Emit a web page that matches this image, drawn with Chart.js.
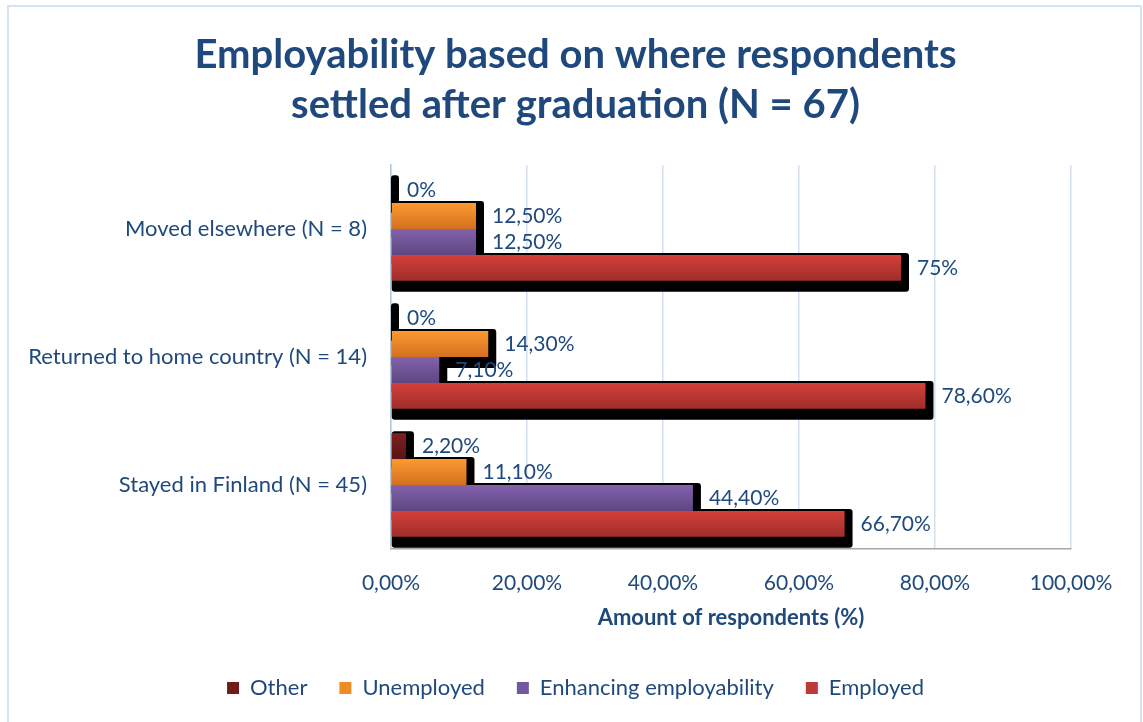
<!DOCTYPE html>
<html>
<head>
<meta charset="utf-8">
<script src="https://cdn.jsdelivr.net/npm/chart.js@4"></script>
<style>
  html, body { margin: 0; padding: 0; background: #fff; }
  canvas { display: block; }
</style>
</head>
<body>
<canvas id="chart" width="1143" height="722"></canvas>
<script>
// where graduates settled, top to bottom
var places = ['Moved elsewhere (N = 8)', 'Returned to home country (N = 14)', 'Stayed in Finland (N = 45)'];

// share of respondents per group, in percent
var other = [0, 0, 2.2];
var unemployed = [12.5, 14.3, 11.1];
var enhancing = [12.5, 7.1, 44.4];
var employed = [75, 78.6, 66.7];

var xTickLabels = ['0,00%', '20,00%', '40,00%', '60,00%', '80,00%', '100,00%'];

var ink = '#1f497d';
var font = 'Lato';

// "12,50%" style, whole numbers without decimals
function pct(v) {
  return (Number.isInteger(v) ? String(v) : v.toFixed(2).replace('.', ',')) + '%';
}

// white card with a thin blue frame
var frame = {
  id: 'frame',
  beforeDraw: function (chart) {
    var ctx = chart.ctx;
    ctx.save();
    ctx.fillStyle = '#fff';
    ctx.fillRect(0, 0, chart.width, chart.height);
    ctx.strokeStyle = '#d6e3f5';
    ctx.lineWidth = 2;
    ctx.strokeRect(8, 6, chart.width - 10, chart.height + 10);
    ctx.restore();
  }
};

// title and legend sit centred on the card, not on the padded layout box
var recenter = {
  id: 'recenter',
  afterLayout: function (chart) {
    [chart.titleBlock, chart.legend].forEach(function (b) {
      b.left += 35;
      b.right += 35;
    });
  }
};

// black extruded shadow under every bar + vertical gradient fill
var barShade = {
  id: 'barShade',
  beforeDatasetsDraw: function (chart) {
    var ctx = chart.ctx;
    ctx.save();
    ctx.fillStyle = '#000';
    chart.getSortedVisibleDatasetMetas().forEach(function (meta) {
      var ds = chart.data.datasets[meta.index];
      meta.data.forEach(function (bar) {
        var p = bar.getProps(['x', 'y', 'base', 'height'], true);
        var top = p.y - p.height / 2;
        var bottom = p.y + p.height / 2;
        var left = Math.min(p.base, p.x);
        var right = Math.max(p.base, p.x);
        var g = ctx.createLinearGradient(0, top, 0, bottom);
        g.addColorStop(0, ds.shade[0]);
        g.addColorStop(1, ds.shade[1]);
        bar.options = Object.assign({}, bar.options, { backgroundColor: g });
        ctx.beginPath();
        ctx.roundRect(left, top - 2, right - left + 8, bottom - top + 13, 3);
        ctx.fill();
      });
    });
    ctx.restore();
  }
};

// value text to the right of each bar
var valueLabels = {
  id: 'valueLabels',
  afterDatasetsDraw: function (chart) {
    var ctx = chart.ctx;
    ctx.save();
    ctx.font = '21px ' + font;
    ctx.fillStyle = ink;
    ctx.textAlign = 'left';
    ctx.textBaseline = 'middle';
    chart.getSortedVisibleDatasetMetas().forEach(function (meta) {
      var values = chart.data.datasets[meta.index].data;
      meta.data.forEach(function (bar, i) {
        ctx.fillText(pct(values[i]), bar.x + 16, bar.y);
      });
    });
    ctx.restore();
  }
};

Chart.defaults.font.family = font;
Chart.defaults.color = ink;

var chart = new Chart(document.getElementById('chart'), {
  type: 'bar',
  data: {
    labels: places,
    datasets: [
      { label: 'Other', data: other, backgroundColor: '#6e1b1b', shade: ['#7d2020', '#5a1414'] },
      { label: 'Unemployed', data: unemployed, backgroundColor: '#f08a24', shade: ['#ff9a30', '#d27020'] },
      { label: 'Enhancing employability', data: enhancing, backgroundColor: '#7159a0', shade: ['#8462ad', '#5d4682'] },
      { label: 'Employed', data: employed, backgroundColor: '#bf3a36', shade: ['#d4403b', '#a02d2a'] }
    ]
  },
  options: {
    indexAxis: 'y',
    responsive: false,
    animation: false,
    events: [],
    layout: { padding: { left: 10, top: 5, right: 72, bottom: 13 } },
    datasets: { bar: { categoryPercentage: 0.81, barPercentage: 1 } },
    scales: {
      x: {
        min: 0,
        max: 100,
        ticks: {
          stepSize: 20,
          padding: 22,
          color: ink,
          font: { size: 21 },
          callback: function (v, i) { return xTickLabels[i]; }
        },
        grid: { color: '#d3dfee', lineWidth: 1.5, drawTicks: false },
        border: { color: '#a6a6a6', width: 1.5 },
        title: {
          display: true,
          text: 'Amount of respondents (%)',
          color: ink,
          font: { size: 22, weight: 'bold' },
          padding: { top: 0, bottom: 14 }
        },
        afterFit: function (s) { s.height = 96; }
      },
      y: {
        grid: { display: false, drawTicks: false },
        border: { color: '#b8c7dc', width: 1.5 },
        ticks: { padding: 24, color: ink, font: { size: 22 } },
        afterFit: function (s) { s.width = 381; }
      }
    },
    plugins: {
      title: {
        display: true,
        text: ['Employability based on where respondents', 'settled after graduation (N = 67)'],
        color: ink,
        font: { size: 40, weight: 'bold', lineHeight: 1.25 },
        padding: { top: 25, bottom: 35 }
      },
      legend: {
        position: 'bottom',
        labels: { boxWidth: 12, boxHeight: 12, padding: 32, color: ink, font: { size: 22 } }
      },
      tooltip: { enabled: false }
    }
  },
  plugins: [frame, recenter, barShade, valueLabels]
});
</script>
</body>
</html>
